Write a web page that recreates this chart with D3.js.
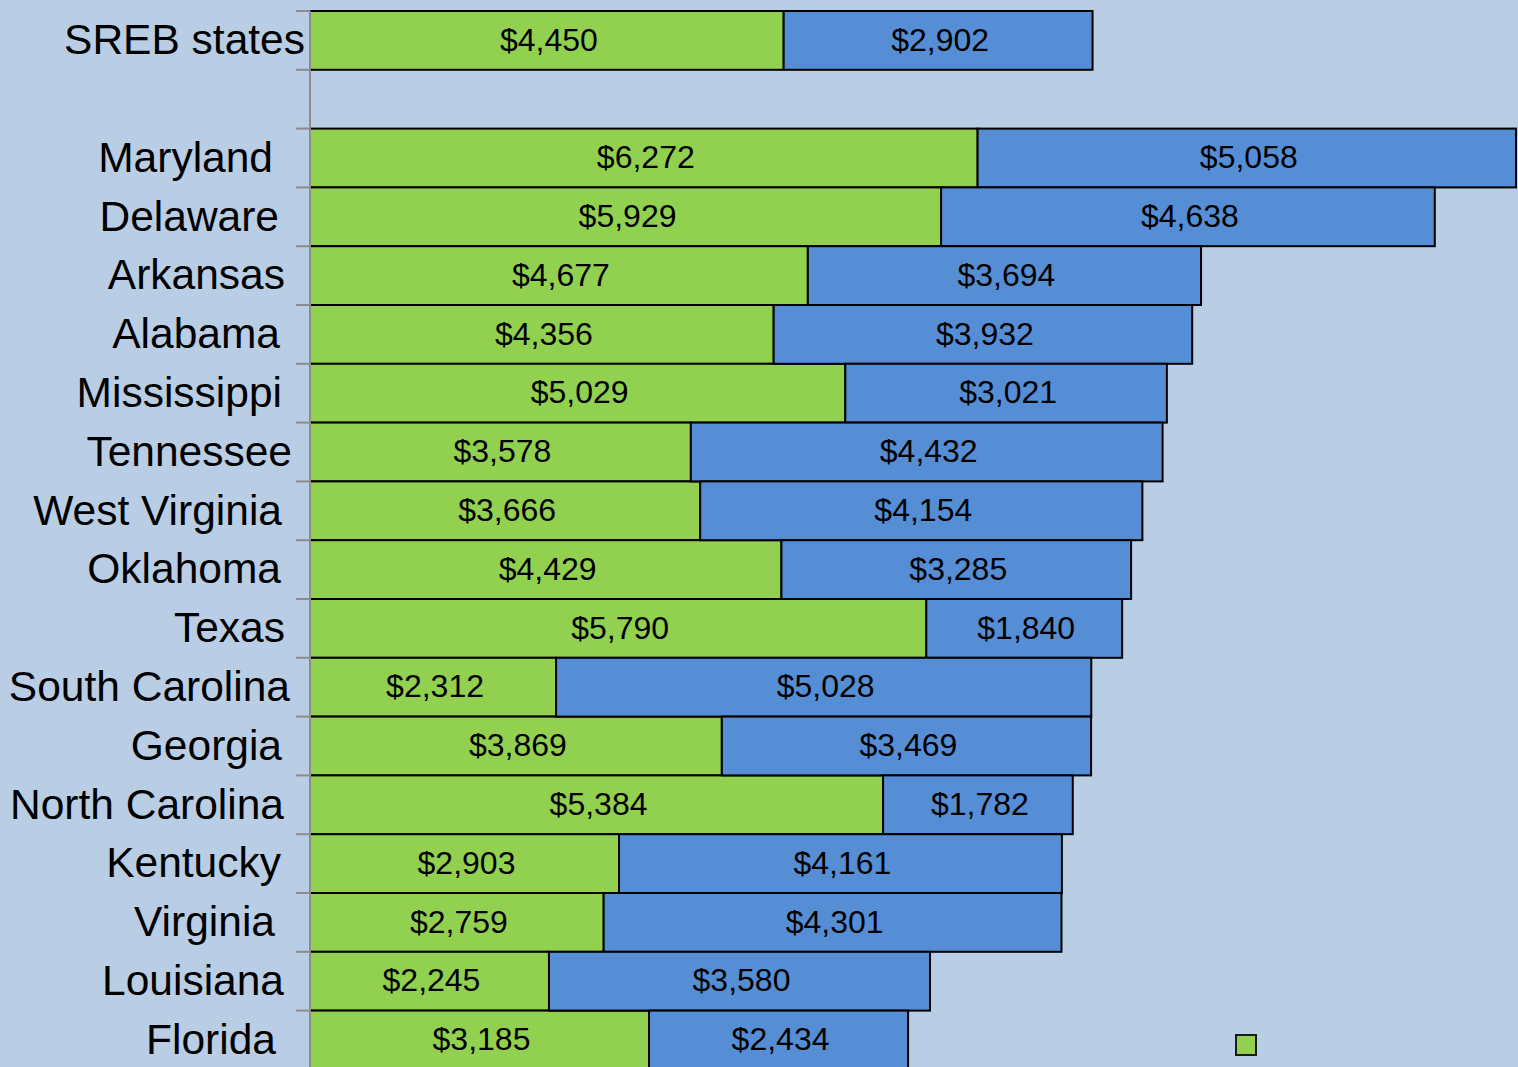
<!DOCTYPE html>
<html>
<head>
<meta charset="utf-8">
<script src="https://cdn.jsdelivr.net/npm/d3@7"></script>
<style>
  html, body { margin: 0; padding: 0; background: #b9cde5; overflow: hidden; }
  text { font-family: "Liberation Sans", Arial, sans-serif; fill: #000; }
</style>
</head>
<body>
<svg id="chart" width="1518" height="1067"></svg>
<script>
// categories, top to bottom ("" is the spacer row)
var states = ["SREB states", "", "Maryland", "Delaware", "Arkansas", "Alabama",
  "Mississippi", "Tennessee", "West Virginia", "Oklahoma", "Texas",
  "South Carolina", "Georgia", "North Carolina", "Kentucky", "Virginia",
  "Louisiana", "Florida"];
var greenVals = [4450, null, 6272, 5929, 4677, 4356, 5029, 3578, 3666, 4429, 5790,
  2312, 3869, 5384, 2903, 2759, 2245, 3185];
var blueVals = [2902, null, 5058, 4638, 3694, 3932, 3021, 4432, 4154, 3285, 1840,
  5028, 3469, 1782, 4161, 4301, 3580, 2434];

var svg = d3.select("#chart");
var W = 1518, H = 1067;
var plotLeft = 310, plotTop = 11, bandH = 58.8;

// the original labels don't line up exactly; small nudges off the common right edge
var labelNudge = {"SREB states": 23, "Maryland": -9, "Delaware": -3, "Arkansas": 3,
  "Alabama": -2, "Tennessee": 10, "South Carolina": 8, "Virginia": -7, "Florida": -6,
  "Kentucky": -1, "Oklahoma": -1, "Louisiana": 2, "Texas": 3, "North Carolina": 2};

var x = d3.scaleLinear().domain([0, 11330]).range([plotLeft, 1516]);
var y = d3.scaleBand().domain(d3.range(states.length))
    .range([plotTop, plotTop + bandH * states.length]).padding(0);

var fmt = function(v) { return "$" + d3.format(",")(v); };

var rows = states.map(function(s, i) {
  return {name: s, g: greenVals[i], b: blueVals[i], i: i};
}).filter(function(d) { return d.g != null; });

// green segment
svg.selectAll(".green")
    .data(rows)
    .enter().append("rect")
    .attr("class", "green")
    .attr("x", x(0))
    .attr("y", function(d) { return y(d.i); })
    .attr("width", function(d) { return x(d.g) - x(0); })
    .attr("height", y.bandwidth())
    .style("fill", "#92d050")
    .style("stroke", "#000")
    .style("stroke-width", 2);

// blue segment
svg.selectAll(".blue")
    .data(rows)
    .enter().append("rect")
    .attr("class", "blue")
    .attr("x", function(d) { return x(d.g); })
    .attr("y", function(d) { return y(d.i); })
    .attr("width", function(d) { return x(d.g + d.b) - x(d.g); })
    .attr("height", y.bandwidth())
    .style("fill", "#558ed5")
    .style("stroke", "#000")
    .style("stroke-width", 2);

// value labels
svg.selectAll(".lg")
    .data(rows)
    .enter().append("text")
    .attr("x", function(d) { return (x(0) + x(d.g)) / 2 + 2; })
    .attr("y", function(d) { return y(d.i) + y.bandwidth() / 2 - 1; })
    .attr("dy", ".35em")
    .attr("text-anchor", "middle")
    .style("font-size", "32px")
    .text(function(d) { return fmt(d.g); });

svg.selectAll(".lb")
    .data(rows)
    .enter().append("text")
    .attr("x", function(d) { return (x(d.g) + x(d.g + d.b)) / 2 + 2; })
    .attr("y", function(d) { return y(d.i) + y.bandwidth() / 2 - 1; })
    .attr("dy", ".35em")
    .attr("text-anchor", "middle")
    .style("font-size", "32px")
    .text(function(d) { return fmt(d.b); });

// category axis
svg.append("line")
    .attr("x1", plotLeft).attr("x2", plotLeft)
    .attr("y1", plotTop).attr("y2", H)
    .style("stroke", "#8c8c8c")
    .style("stroke-width", 2);

svg.selectAll(".tick")
    .data(d3.range(states.length + 1))
    .enter().append("line")
    .attr("x1", plotLeft - 14).attr("x2", plotLeft)
    .attr("y1", function(i) { return plotTop + i * y.step(); })
    .attr("y2", function(i) { return plotTop + i * y.step(); })
    .style("stroke", "#8c8c8c")
    .style("stroke-width", 2);

svg.selectAll(".cat")
    .data(rows)
    .enter().append("text")
    .attr("x", function(d) { return plotLeft - 28 + (labelNudge[d.name] || 0); })
    .attr("y", function(d) { return y(d.i) + y.bandwidth() / 2 - 1; })
    .attr("dy", ".35em")
    .attr("text-anchor", "end")
    .style("font-size", "42.5px")
    .text(function(d) { return d.name; });

// legend (mostly cut off in original)
svg.append("rect")
    .attr("x", 1236).attr("y", 1035)
    .attr("width", 20).attr("height", 20)
    .style("fill", "#92d050")
    .style("stroke", "#1a1a1a")
    .style("stroke-width", 2);
</script>
</body>
</html>
